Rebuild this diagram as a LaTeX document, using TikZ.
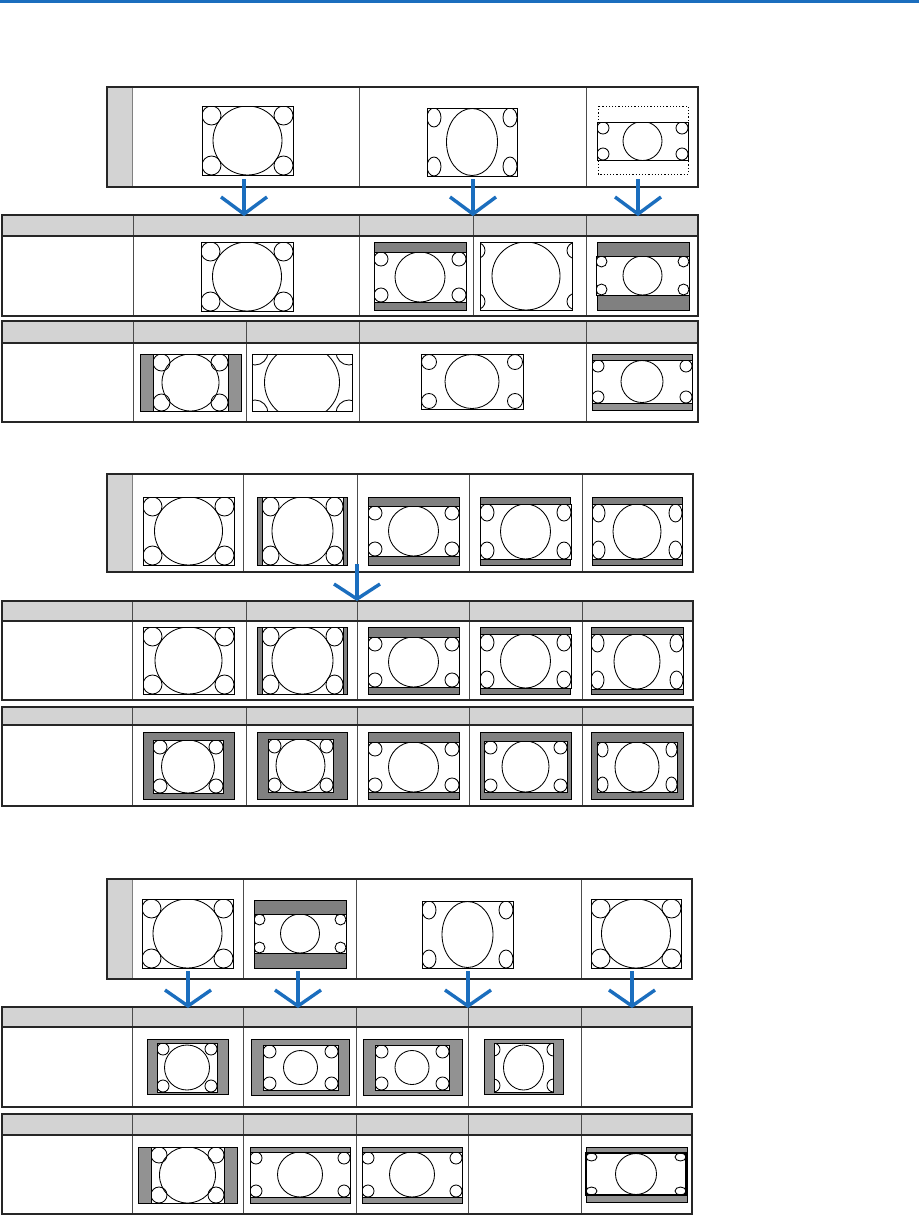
\documentclass[tikz,border=0pt]{standalone}
\definecolor{nblue}{RGB}{27,110,190}
\definecolor{hdrgray}{RGB}{211,211,211}
\definecolor{barA}{RGB}{128,128,128}
\definecolor{barB}{RGB}{146,146,146}
\tikzset{
  tline/.style={draw=black!85, line width=1.2pt},
  dline/.style={draw=black!70, line width=1pt},
  frm/.style={draw=black, line width=0.95pt},
  shp/.style={draw=black, line width=0.85pt},
  bara/.style={fill=barA},
  barb/.style={fill=barB},
  arr/.style={draw=nblue, line width=3.4pt, line join=miter},
}
\newcommand{\setfr}[4]{\def\xa{#1}\def\ya{#2}\def\xb{#3}\def\yb{#4}}
\newcommand{\scr}[6]{%
  \begin{scope}
    \clip (\xa,\ya) rectangle (\xb,\yb);
    \fill[white] (\xa,\ya) rectangle (\xb,\yb);
    \draw[shp] ({(\xa+\xb)/2},{(\ya+\yb)/2}) ellipse [x radius=#1pt, y radius=#2pt];
    \draw[shp] ({\xa+(#5)},{\ya+(#6)}) ellipse [x radius=#3pt, y radius=#4pt];
    \draw[shp] ({\xb-(#5)},{\ya+(#6)}) ellipse [x radius=#3pt, y radius=#4pt];
    \draw[shp] ({\xa+(#5)},{\yb-(#6)}) ellipse [x radius=#3pt, y radius=#4pt];
    \draw[shp] ({\xb-(#5)},{\yb-(#6)}) ellipse [x radius=#3pt, y radius=#4pt];
  \end{scope}
  \draw[frm] (\xa,\ya) rectangle (\xb,\yb);}
\newcommand{\tbl}[6]{%
  \fill[hdrgray] (#1,#2) rectangle (#3,#4);
  \foreach \dx in {#6} {\draw[dline] (\dx,#2) -- (\dx,#5);}
  \draw[tline] (#1,#4) -- (#3,#4);
  \draw[tline] (#1,#2) rectangle (#3,#5);}
\newcommand{\srcbox}[5]{%
  \fill[hdrgray] (#1,#2) rectangle (132.5,#4);
  \draw[black!50, line width=1pt] (132.5,#2) -- (132.5,#4);
  \foreach \dx in {#5} {\draw[dline] (\dx,#2) -- (\dx,#4);}
  \draw[tline] (#1,#2) rectangle (#3,#4);}
\newcommand{\darr}[5]{%
  \coordinate (#1top) at (#2,#3);
  \coordinate (#1tip) at (#2,#4);
  \coordinate (#1l) at (#2-23,#5);
  \coordinate (#1r) at (#2+23,#5);
  \draw[arr] (#1top) -- (#1tip);
  \draw[arr] (#1l) -- (#1tip) -- (#1r);}
\begin{document}
\begin{tikzpicture}[x=1pt,y=-1pt]
\useasboundingbox (0,0) rectangle (919,1219);
\fill[white] (0,0) rectangle (919,1219);
\fill[nblue] (0,0) rectangle (919,2.6);

% ---------------- Section 1 ----------------
\srcbox{107}{87}{698}{187}{359,586}
\setfr{202}{106}{293}{175}\scr{34.5}{34.5}{9.5}{9.5}{9.5}{9.5}
\setfr{427}{108}{517}{176}\scr{25.5}{33.5}{7}{9.5}{7}{9.5}
\draw[black, line width=0.9pt, dash pattern=on 1.2pt off 2pt] (598,106) rectangle (688,174);
\setfr{597}{122}{688}{160}\scr{19.5}{19.5}{6}{6}{6}{6}

\tbl{2}{215}{698}{236}{316}{133,359,473,586}
\setfr{201}{242}{293}{311}\scr{34.5}{34.5}{9.5}{9.5}{9.5}{9.5}
\fill[bara] (374,242) rectangle (466,252);
\fill[bara] (374,302) rectangle (466,310);
\setfr{374}{252}{466}{302}\scr{25}{25}{7}{7}{7}{7}
\draw[frm] (374,242) rectangle (466,310);
\setfr{480}{242}{572}{310}\scr{34}{34}{8}{8}{-3}{8.5}
\fill[bara] (597,242) rectangle (689,256);
\fill[bara] (597,295) rectangle (689,310);
\draw[frm] (597,242) rectangle (689,310);
\setfr{596}{256}{689}{295}\scr{19.5}{19.5}{5.5}{5.5}{5.5}{5.5}

\tbl{2}{321}{698}{343}{422}{133,246,359,586}
\fill[barb] (140,354) rectangle (153,411);
\fill[barb] (228,354) rectangle (241,411);
\draw[frm] (140,354) rectangle (241,411);
\setfr{153}{354}{228}{411}\scr{28.5}{28.5}{8.5}{8.5}{8.5}{8.5}
\setfr{252}{354}{352}{411}\scr{37.5}{37.5}{13}{13}{3}{-2}
\setfr{421}{354}{523}{409}\scr{27}{27}{7.5}{7.5}{8}{8}
\fill[barb] (592,354) rectangle (692,360);
\fill[barb] (592,403) rectangle (692,410);
\draw[frm] (592,354) rectangle (692,410);
\setfr{592}{360}{692}{403}\scr{21}{21}{6}{6}{6}{6}

\darr{a1}{244}{179}{214}{197}
\darr{a2}{473}{179}{214}{197}
\darr{a3}{638}{179}{214}{197}

% ---------------- Section 2 ----------------
\srcbox{107}{474}{693}{572}{243,357,469,582}
\setfr{143}{497}{234}{565}\scr{34}{34}{9.5}{9.5}{9.5}{9.5}
\fill[bara] (257,497) rectangle (262,565);
\fill[bara] (343,497) rectangle (347,565);
\draw[frm] (257,497) rectangle (347,565);
\setfr{262}{497}{343}{565}\scr{30.5}{34}{8.5}{9.5}{8.5}{9.5}
\fill[bara] (368,497) rectangle (459,506);
\fill[bara] (368,556) rectangle (459,565);
\draw[frm] (368,497) rectangle (459,565);
\setfr{368}{506}{459}{556}\scr{25}{25}{7}{7}{7}{7}
\fill[bara] (480,497) rectangle (570,504);
\fill[bara] (480,559) rectangle (570,565);
\draw[frm] (480,497) rectangle (570,565);
\setfr{480}{504}{571}{559}\scr{25}{27.5}{7}{8.5}{7}{8.5}
\fill[bara] (592,497) rectangle (682,504);
\fill[bara] (592,559) rectangle (682,565);
\draw[frm] (592,497) rectangle (682,565);
\setfr{592}{504}{682}{559}\scr{24}{27.5}{6.5}{9}{6.5}{9}

\tbl{2}{601}{693}{621}{700}{132,246,357,469,582}
\setfr{143}{627}{234}{694}\scr{33.5}{33.5}{9.5}{9.5}{9.5}{9.5}
\fill[bara] (257,627) rectangle (262,694);
\fill[bara] (343,627) rectangle (347,694);
\draw[frm] (257,627) rectangle (347,694);
\setfr{262}{627}{343}{694}\scr{30.5}{33.5}{8.5}{9.5}{8.5}{9.5}
\fill[bara] (368,627) rectangle (459,637);
\fill[bara] (368,687) rectangle (459,694);
\draw[frm] (368,627) rectangle (459,694);
\setfr{368}{637}{459}{687}\scr{25}{25}{7}{7}{7}{7}
\fill[bara] (480,627) rectangle (570,634);
\fill[bara] (480,688) rectangle (570,694);
\draw[frm] (480,627) rectangle (570,694);
\setfr{480}{634}{571}{688}\scr{25}{27}{7}{8.5}{7}{8.5}
\fill[bara] (591,627) rectangle (683,634);
\fill[bara] (591,689) rectangle (683,694);
\draw[frm] (591,627) rectangle (683,694);
\setfr{591}{634}{683}{689}\scr{23}{27.5}{6.5}{9}{6.5}{9}

\tbl{2}{707}{693}{725}{806}{132,246,357,469,582}
\fill[bara] (143,732) rectangle (234,799);
\draw[frm] (143,732) rectangle (234,799);
\setfr{153}{740}{223}{793}\scr{26.5}{26.5}{7}{7}{7}{7}
\fill[bara] (257,732) rectangle (347,799);
\draw[frm] (257,732) rectangle (347,799);
\setfr{268}{739}{333}{792}\scr{24.5}{26.5}{6.5}{7}{6.5}{7}
\fill[bara] (368,732) rectangle (459,742);
\fill[bara] (368,792) rectangle (459,799);
\draw[frm] (368,732) rectangle (459,799);
\setfr{368}{742}{459}{792}\scr{25}{25}{7}{7}{7}{7}
\fill[bara] (480,732) rectangle (571,799);
\draw[frm] (480,732) rectangle (571,799);
\setfr{484}{741}{567}{792}\scr{23.5}{25.5}{6.5}{6.5}{6.5}{6.5}
\fill[bara] (591,732) rectangle (683,799);
\draw[frm] (591,732) rectangle (683,799);
\setfr{597}{742}{677}{792}\scr{22}{25}{5.5}{7.5}{5.5}{7.5}

\darr{b1}{357}{564}{599}{584}

% ---------------- Section 3 ----------------
\srcbox{107}{879}{692}{979}{243,356,581}
\setfr{142}{899}{233}{968}\scr{34.5}{34.5}{9.5}{9.5}{9.5}{9.5}
\fill[bara] (254,900) rectangle (346,914);
\fill[bara] (254,953) rectangle (346,968);
\draw[frm] (254,900) rectangle (346,968);
\setfr{254}{914}{346}{953}\scr{19.5}{19.5}{5.5}{5.5}{5.5}{5.5}
\setfr{422}{901}{513}{968}\scr{25.5}{33}{7}{9}{7}{9}
\setfr{591}{899}{681}{968}\scr{34.5}{34.5}{9.5}{9.5}{9.5}{9.5}

\tbl{2}{1007}{692}{1027}{1107}{132,243,356,468,581}
\fill[barb] (147,1039) rectangle (228,1094);
\draw[frm] (147,1039) rectangle (228,1094);
\setfr{157}{1043}{217}{1092}\scr{22.5}{22.5}{6}{6}{6}{6}
\fill[barb] (251,1039) rectangle (349,1095);
\draw[frm] (251,1039) rectangle (349,1095);
\setfr{263}{1045}{338}{1090}\scr{17}{17}{6.5}{6.5}{6.5}{6.5}
\fill[barb] (363,1039) rectangle (462,1095);
\draw[frm] (363,1039) rectangle (462,1095);
\setfr{375}{1045}{449}{1090}\scr{17}{17}{6.5}{6.5}{6.5}{6.5}
\fill[barb] (484,1039) rectangle (563,1094);
\draw[frm] (484,1039) rectangle (563,1094);
\setfr{494}{1043}{553}{1092}\scr{20}{22.5}{6.5}{6.5}{-0.5}{6.5}

\tbl{2}{1114}{692}{1135}{1214}{132,243,356,468,581}
\fill[barb] (138,1147) rectangle (151,1203);
\fill[barb] (224,1147) rectangle (237,1203);
\draw[frm] (138,1147) rectangle (237,1203);
\setfr{151}{1147}{224}{1203}\scr{28}{28}{8}{8}{8}{8}
\fill[barb] (250,1147) rectangle (350,1152);
\fill[barb] (250,1197) rectangle (350,1203);
\draw[frm] (250,1147) rectangle (350,1203);
\setfr{250}{1152}{350}{1197}\scr{22.5}{22.5}{6}{6}{6}{6}
\fill[barb] (362,1147) rectangle (462,1152);
\fill[barb] (362,1197) rectangle (462,1203);
\draw[frm] (362,1147) rectangle (462,1203);
\setfr{362}{1152}{462}{1197}\scr{22.5}{22.5}{6}{6}{6}{6}
\fill[barb] (586,1147) rectangle (687,1153);
\fill[barb] (586,1195) rectangle (687,1202);
\draw[frm] (586,1147) rectangle (687,1202);
\setfr{586}{1153}{686}{1195}\scr{20.5}{20.5}{5.5}{4}{5.5}{4}
\draw[black, line width=1.15pt] (586,1153) rectangle (686,1195);

\darr{c1}{188}{971}{1006}{990}
\darr{c2}{298}{971}{1006}{990}
\darr{c3}{468}{971}{1006}{990}
\darr{c4}{632}{971}{1006}{990}
\end{tikzpicture}
\end{document}
